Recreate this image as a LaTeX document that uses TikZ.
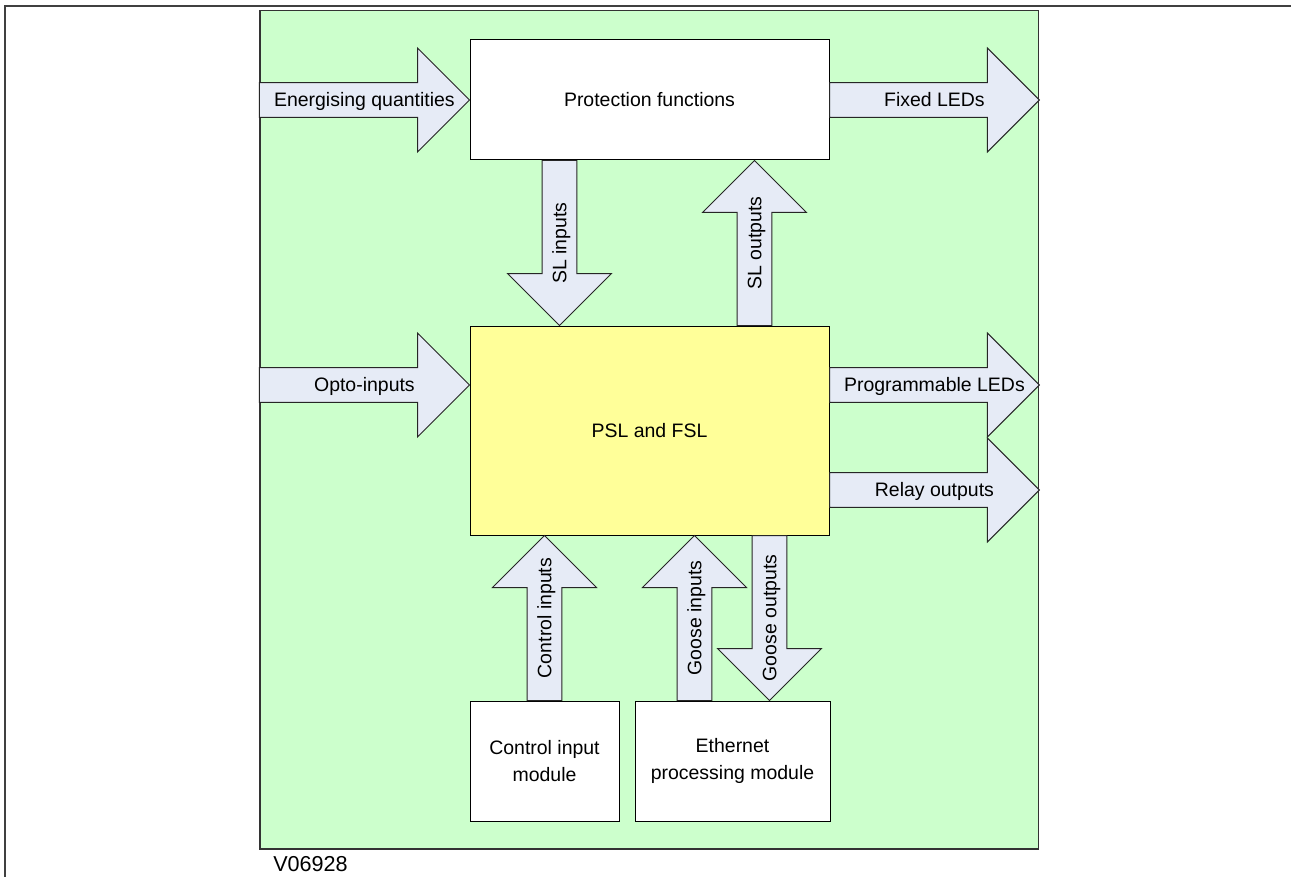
\documentclass[tikz,border=0pt]{standalone}
\usepackage{fontspec}
\setmainfont{Liberation Sans}
\usetikzlibrary{positioning,calc}

\definecolor{panelgreen}{HTML}{CCFFCC}
\definecolor{arrowfill}{HTML}{E6EBF6}
\definecolor{pslyellow}{HTML}{FFFF99}
\newcommand\pxu{0.75pt}

\begin{document}
\begin{tikzpicture}[x=0.75pt, y=-0.75pt,
  every node/.style={font=\fontsize{14.6pt}{20.8pt}\selectfont},
  blockbox/.style={draw=black, fill=white, line width=0.75pt, align=center, inner sep=0pt},
  lbl/.style={inner sep=0pt, text height=10.4pt, text depth=0pt},
  fatarrow/.style={draw=black!85, fill=arrowfill, line width=0.75pt, line join=miter,
    to path={let \p1=(\tikztostart), \p2=(\tikztotarget),
      \n1={atan2(\y2-\y1,\x2-\x1)}, \n2={veclen(\x2-\x1,\y2-\y1)} in
      [shift={(\p1)}, rotate=\n1]
      (0pt,-13.1pt) -- (\n2-39pt,-13.1pt) -- (\n2-39pt,-39pt) -- (\n2+0pt,0pt)
      -- (\n2-39pt,39pt) -- (\n2-39pt,13.1pt) -- (0pt,13.1pt) -- cycle}}]

\useasboundingbox (0,0) rectangle (1291,877);
\draw[line width=1.6pt, black!75] (5,877) -- (5,6) -- (1291,6);

\node (panel) [draw=black!80, fill=panelgreen, line width=1pt, inner sep=0pt,
  minimum width=778.7*\pxu, minimum height=838.5*\pxu] at (649.35,429.75) {};
\node (code) [lbl, font=\fontsize{16.2pt}{19pt}\selectfont] at (310.5,864.5) {V06928};

% boxes
\node (prot) [blockbox, minimum width=359*\pxu, minimum height=120*\pxu] at (649.5,100) {Protection functions};
\node (psl) [blockbox, fill=pslyellow, minimum width=359*\pxu, minimum height=209*\pxu, below=123.75pt of prot] {PSL and FSL};
\node (cim) [blockbox, minimum width=149*\pxu, minimum height=120*\pxu, below right=123.75pt and 0pt of psl.south west] {Control input\\module};
\node (epm) [blockbox, minimum width=195*\pxu, minimum height=120*\pxu, right=11.25pt of cim] {Ethernet\\processing module};

% rows and columns of the arrows
\coordinate (rowa) at (0,385);
\coordinate (rowb) at (0,490);
\coordinate (cola) at (559.5,0);
\coordinate (colb) at (754.5,0);
\coordinate (colc) at (694.5,0);
\coordinate (cold) at (769.5,0);

% left and right arrows
\draw[fatarrow] (panel.west |- prot.west) to (prot.west);
\path (panel.west |- prot.west) -- node[lbl] {Energising quantities} (prot.west);
\draw[fatarrow] (prot.east) to (panel.east |- prot.east);
\path (prot.east) -- node[lbl] {Fixed LEDs} (panel.east |- prot.east);
\draw[fatarrow] (panel.west |- rowa) to (psl.west |- rowa);
\path (panel.west |- rowa) -- node[lbl] {Opto-inputs} (psl.west |- rowa);
\draw[fatarrow] (psl.east |- rowa) to (panel.east |- rowa);
\path (psl.east |- rowa) -- node[lbl] {Programmable LEDs} (panel.east |- rowa);
\draw[fatarrow] (psl.east |- rowb) to (panel.east |- rowb);
\path (psl.east |- rowb) -- node[lbl] {Relay outputs} (panel.east |- rowb);

% up and down arrows
\draw[fatarrow] (cola |- prot.south) to (cola |- psl.north);
\path (cola |- prot.south) -- node[lbl, rotate=90] {SL inputs} (cola |- psl.north);
\draw[fatarrow] (colb |- psl.north) to (colb |- prot.south);
\path (colb |- psl.north) -- node[lbl, rotate=90] {SL outputs} (colb |- prot.south);
\draw[fatarrow] (cim.north) to (cim.north |- psl.south);
\path (cim.north) -- node[lbl, rotate=90] {Control inputs} (cim.north |- psl.south);
\draw[fatarrow] (colc |- epm.north) to (colc |- psl.south);
\path (colc |- epm.north) -- node[lbl, rotate=90] {Goose inputs} (colc |- psl.south);
\draw[fatarrow] (cold |- psl.south) to (cold |- epm.north);
\path (cold |- psl.south) -- node[lbl, rotate=90] {Goose outputs} (cold |- epm.north);
\end{tikzpicture}
\end{document}
